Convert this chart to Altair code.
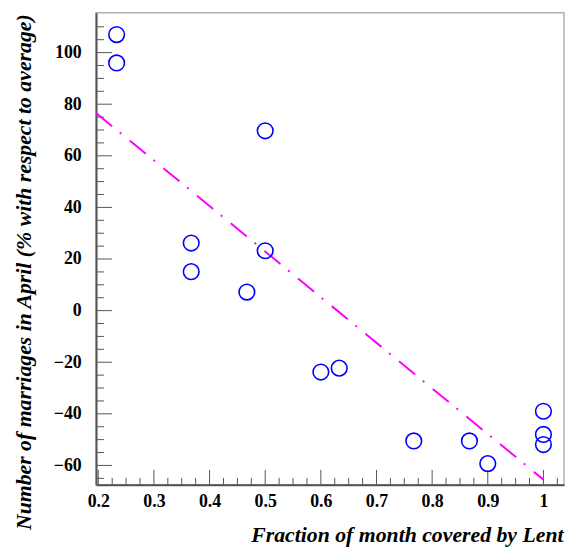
import altair as alt
import pandas as pd

# data
lent_fraction = [0.233, 0.233, 0.500, 0.367, 0.367, 0.500, 0.467, 0.600, 0.633,
                 0.767, 0.867, 0.900, 1.000, 1.000, 1.000]
marriages_pct = [107.0, 96.0, 69.7, 26.2, 15.1, 23.2, 7.2, -23.8, -22.3,
                 -50.5, -50.5, -59.3, -39.0, -48.0, -51.9]

fit_x = [0.196, 1.0]
fit_y = [76.6, -65.5]

x_major = [0.2, 0.3, 0.4, 0.5, 0.6, 0.7, 0.8, 0.9, 1.0]
x_minor = [0.225, 0.25, 0.275, 0.325, 0.35, 0.375, 0.425, 0.45, 0.475,
           0.525, 0.55, 0.575, 0.625, 0.65, 0.675, 0.725, 0.75, 0.775,
           0.825, 0.85, 0.875, 0.925, 0.95, 0.975, 1.025]
y_major = [-60, -40, -20, 0, 20, 40, 60, 80, 100]
y_minor = [-65, -55, -50, -45, -35, -30, -25, -15, -10, -5, 5, 10, 15,
           25, 30, 35, 45, 50, 55, 65, 70, 75, 85, 90, 95, 105, 110]

W, H = 473, 477
FONT = "Liberation Serif"
AX = "#555555"

xs = alt.Scale(domain=[0.196, 1.037], nice=False, zero=False)
ys = alt.Scale(domain=[-67.5, 115.4], nice=False, zero=False)

pts = pd.DataFrame({"x": lent_fraction, "y": marriages_pct})
fit = pd.DataFrame({"x": fit_x, "y": fit_y})

x_axis = alt.Axis(values=x_major, labelExpr="datum.value == 1 ? '1' : format(datum.value, '.1f')",
                  labelPadding=8,
                  title="Fraction of month covered by Lent",
                  titleAnchor="end", titleAlign="right", titleX=W - 1, titleY=57,
                  titleBaseline="alphabetic")
y_axis = alt.Axis(values=y_major, labelPadding=15,
                  title="Number of marriages in April (% with respect to average)",
                  titleAngle=270, titleAlign="right", titleAnchor="end",
                  titleX=-73, titleY=1, titleBaseline="middle")

points = alt.Chart(pts).mark_point(shape="circle", filled=False, size=250,
                                   strokeWidth=1.6, color="#0000ff", opacity=1).encode(
    x=alt.X("x:Q", scale=xs, axis=x_axis),
    y=alt.Y("y:Q", scale=ys, axis=y_axis),
)

line = alt.Chart(fit).mark_line(color="#ff00ff", strokeWidth=2,
                                strokeDash=[21, 10, 2, 11], clip=True).encode(
    x=alt.X("x:Q", scale=xs, axis=x_axis),
    y=alt.Y("y:Q", scale=ys, axis=y_axis),
)

def yticks(vals, length):
    return alt.Chart(pd.DataFrame({"y": vals})).mark_rule(color=AX, strokeWidth=1).encode(
        y=alt.Y("y:Q", scale=ys, axis=y_axis), x=alt.value(0), x2=alt.value(length))

def xticks(vals, length):
    return alt.Chart(pd.DataFrame({"x": vals})).mark_rule(color=AX, strokeWidth=1).encode(
        x=alt.X("x:Q", scale=xs, axis=x_axis), y=alt.value(H), y2=alt.value(H - length))

chart = alt.layer(
    yticks(y_major, 16), yticks(y_minor, 8), xticks(x_major, 15), xticks(x_minor, 7),
    line, points,
).properties(
    width=W, height=H, autosize="none", background="white",
    padding={"left": 89, "top": 2, "right": 1, "bottom": 62},
).configure_view(
    stroke="#b0b0b0", strokeWidth=1.5
).configure_axis(
    ticks=False, grid=False, domainColor=AX, domainWidth=2,
    labelFont=FONT, labelFontWeight="bold", labelFontSize=18, labelColor="black",
    labelFlush=False,
    titleFont=FONT, titleFontStyle="italic", titleFontWeight="bold",
    titleFontSize=22, titleColor="black",
)

chart.save("out.html", embed_options={"renderer": "svg", "actions": False})
